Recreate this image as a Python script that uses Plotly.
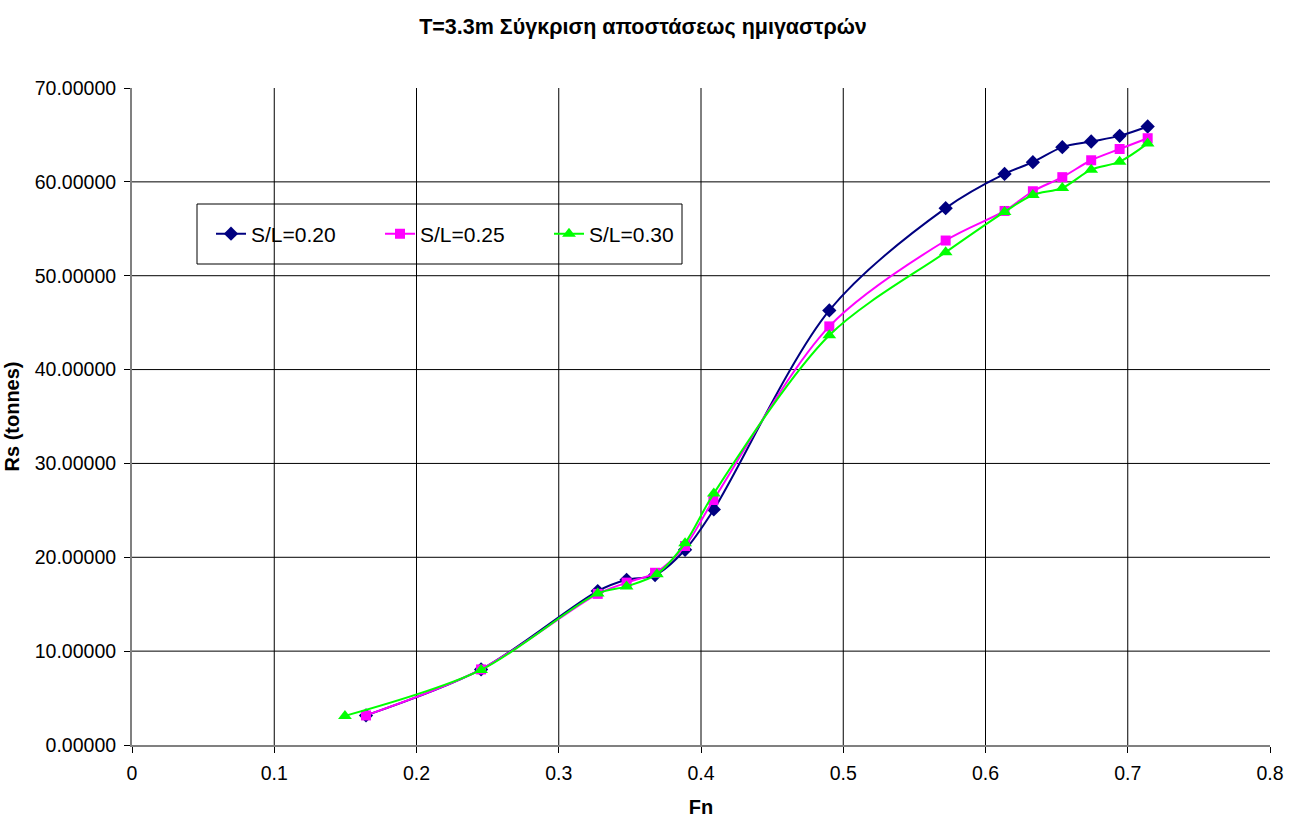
import plotly.graph_objects as go

# Froude number values for each separation ratio
fn_020 = [0.1645, 0.2454, 0.3274, 0.3477, 0.3677, 0.3888, 0.4090, 0.4902, 0.5720,
          0.6134, 0.6333, 0.6540, 0.6743, 0.6943, 0.7140]
fn_025 = [0.1645, 0.2454, 0.3274, 0.3477, 0.3677, 0.3888, 0.4087, 0.4902, 0.5720,
          0.6134, 0.6333, 0.6540, 0.6743, 0.6943, 0.7140]
fn_030 = [0.1497, 0.2454, 0.3274, 0.3477, 0.3690, 0.3888, 0.4090, 0.4902, 0.5720,
          0.6134, 0.6333, 0.6540, 0.6743, 0.6943, 0.7140]

# Resistance Rs (tonnes)
rs_020 = [3.15, 8.05, 16.4, 17.6, 18.1, 20.8, 25.1, 46.3, 57.2,
          60.85, 62.1, 63.7, 64.3, 64.9, 65.9]
rs_025 = [3.15, 8.05, 16.1, 17.3, 18.35, 21.2, 26.1, 44.6, 53.75,
          56.9, 59.0, 60.5, 62.3, 63.5, 64.65]
rs_030 = [3.1, 8.0, 16.15, 16.9, 18.2, 21.5, 26.8, 43.65, 52.5,
          56.8, 58.6, 59.35, 61.3, 62.15, 64.1]

series = [
    ("S/L=0.20", fn_020, rs_020, "#000080", "diamond", 11),
    ("S/L=0.25", fn_025, rs_025, "#FF00FF", "square", 10),
    ("S/L=0.30", fn_030, rs_030, "#00FF00", "triangle-up", 12),
]

x_ticks = [0, 0.1, 0.2, 0.3, 0.4, 0.5, 0.6, 0.7, 0.8]
y_ticks = [0, 10, 20, 30, 40, 50, 60, 70]

FONT = "Liberation Sans, Arial, sans-serif"

fig = go.Figure()
for name, xs, ys, color, symbol, size in series:
    fig.add_trace(go.Scatter(
        x=xs, y=ys, name=name, mode="lines+markers",
        line=dict(color=color, width=2, shape="spline", smoothing=0.9),
        marker=dict(color=color, symbol=symbol, size=size),
    ))

# interior gridlines (none on the top and right edges)
shapes = []
for v in x_ticks[1:-1]:
    shapes.append(dict(type="line", xref="x", yref="paper", x0=v, x1=v, y0=0, y1=1,
                       line=dict(color="#000000", width=1), layer="below"))
for v in y_ticks[1:-1]:
    shapes.append(dict(type="line", xref="paper", yref="y", x0=0, x1=1, y0=v, y1=v,
                       line=dict(color="#000000", width=1), layer="below"))

# legend frame
L, R, T, B = 132, 1270, 88, 745
pw, ph = R - L, B - T
shapes.append(dict(type="rect", xref="paper", yref="paper",
                   x0=(197 - L) / pw, x1=(682 - L) / pw,
                   y0=(B - 264) / ph, y1=(B - 204) / ph,
                   line=dict(color="#000000", width=1), fillcolor="rgba(0,0,0,0)"))

fig.update_layout(
    width=1299, height=818,
    margin=dict(l=L, r=1299 - R, t=T, b=818 - B, autoexpand=False),
    paper_bgcolor="white", plot_bgcolor="white",
    font=dict(family=FONT, size=19.5, color="#000000"),
    title=dict(text="<b>T=3.3m Σύγκριση αποστάσεως ημιγαστρών</b>",
               x=0.495, xanchor="center", y=1 - 26 / 818, yanchor="middle",
               font=dict(size=21.5)),
    shapes=shapes,
    showlegend=True,
    legend=dict(orientation="h", x=(211 - L) / pw, xanchor="left",
                y=(B - 234) / ph, yanchor="middle",
                bgcolor="rgba(0,0,0,0)", borderwidth=0,
                itemwidth=30,
                entrywidth=124, entrywidthmode="pixels",
                font=dict(size=21)),
    xaxis=dict(range=[0, 0.8], tickvals=x_ticks,
               ticktext=["0", "0.1", "0.2", "0.3", "0.4", "0.5", "0.6", "0.7", "0.8"],
               showgrid=False, zeroline=False, automargin=False,
               showline=True, linecolor="#808080", linewidth=2,
               ticks="outside", ticklen=6, tickcolor="#000000", tickwidth=1,
               ticklabelstandoff=4,
               title=dict(text="<b>Fn</b>", standoff=22, font=dict(size=20))),
    yaxis=dict(range=[0, 70], tickvals=y_ticks, tickformat=".5f",
               showgrid=False, zeroline=False, automargin=False,
               showline=True, linecolor="#808080", linewidth=2,
               ticks="outside", ticklen=6, tickcolor="#000000", tickwidth=1,
               ticklabelstandoff=4,
               title=dict(text="<b>Rs (tonnes)</b>", standoff=10, font=dict(size=20))),
)

fig.write_html("out.html")
